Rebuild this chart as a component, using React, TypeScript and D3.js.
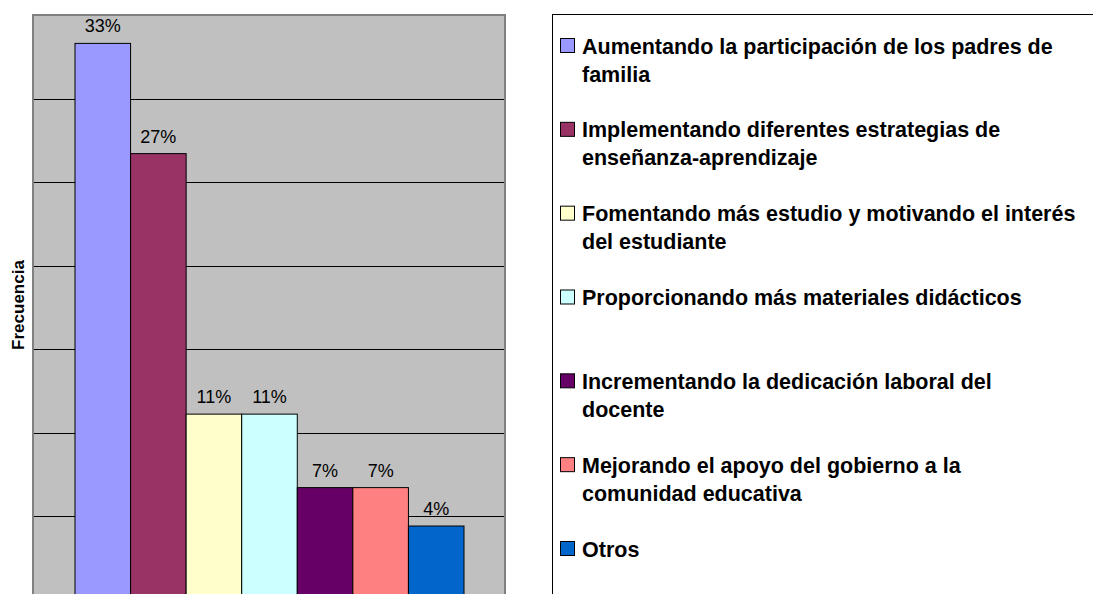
import React, { useEffect, useRef } from "react";
import * as d3 from "d3";

// legend names, line breaks as in the original chart
const categories = [
  "Aumentando la participación de los padres de\nfamilia",
  "Implementando diferentes estrategias de\nenseñanza-aprendizaje",
  "Fomentando más estudio y motivando el interés\ndel estudiante",
  "Proporcionando más materiales didácticos",
  "Incrementando la dedicación laboral del\ndocente",
  "Mejorando el apoyo del gobierno a la\ncomunidad educativa",
  "Otros",
];
const values = [33.3, 26.7, 11.1, 11.1, 6.7, 6.7, 4.4];
const colors = ["#9999FF", "#993366", "#FFFFCC", "#CCFFFF", "#660066", "#FF8080", "#0066CC"];
const yTicks = [0, 5, 10, 15, 20, 25, 30, 35];

const W = 1093;
const H = 594;
const FONT = "Arial, 'Liberation Sans', Helvetica, sans-serif";

export default function App() {
  const ref = useRef<SVGSVGElement | null>(null);

  useEffect(() => {
    const svg = d3.select(ref.current);
    svg.selectAll("*").remove();

    const plot = { left: 33, right: 505, top: 15, bottom: 599.5 };

    const y = d3.scaleLinear().domain([0, 35]).range([plot.bottom, plot.top]);
    const x = d3
      .scaleBand<string>()
      .domain(categories)
      .range([plot.left + 42, plot.right - 41])
      .padding(0);

    // plot area
    svg
      .append("rect")
      .attr("x", plot.left)
      .attr("y", plot.top)
      .attr("width", plot.right - plot.left)
      .attr("height", plot.bottom - plot.top + 10)
      .attr("fill", "#C0C0C0")
      .attr("stroke", "#808080")
      .attr("stroke-width", 2);

    svg
      .append("g")
      .selectAll("line")
      .data(yTicks.filter((t) => t > 0 && t < 35))
      .join("line")
      .attr("x1", plot.left + 1)
      .attr("x2", plot.right - 1)
      .attr("y1", (d) => Math.round(y(d)) + 0.5)
      .attr("y2", (d) => Math.round(y(d)) + 0.5)
      .attr("stroke", "#000")
      .attr("stroke-width", 1);

    // bars
    svg
      .append("g")
      .selectAll("rect")
      .data(values)
      .join("rect")
      .attr("x", (d, i) => x(categories[i])!)
      .attr("y", (d) => y(d))
      .attr("width", x.bandwidth())
      .attr("height", (d) => plot.bottom - y(d) + 10)
      .attr("fill", (d, i) => colors[i])
      .attr("stroke", "#000")
      .attr("stroke-width", 1);

    // value labels
    svg
      .append("g")
      .selectAll("text")
      .data(values)
      .join("text")
      .attr("x", (d, i) => x(categories[i])! + x.bandwidth() / 2)
      .attr("y", (d) => y(d) - 11)
      .attr("text-anchor", "middle")
      .attr("font-family", FONT)
      .attr("font-size", 18)
      .attr("fill", "#000")
      .text((d) => `${Math.round(d)}%`);

    // y axis title
    svg
      .append("text")
      .attr("transform", `translate(24,305) rotate(-90)`)
      .attr("text-anchor", "middle")
      .attr("font-family", FONT)
      .attr("font-size", 17)
      .attr("font-weight", "bold")
      .text("Frecuencia");

    // legend
    const lg = svg.append("g");
    lg.append("rect")
      .attr("x", 552.5)
      .attr("y", 14.5)
      .attr("width", 700)
      .attr("height", 700)
      .attr("fill", "#fff")
      .attr("stroke", "#000")
      .attr("stroke-width", 1);

    const rowY = d3.scaleLinear().domain([0, 6]).range([46, 549]);
    const item = lg
      .selectAll("g.item")
      .data(categories)
      .join("g")
      .attr("class", "item")
      .attr("transform", (d, i) => `translate(0,${rowY(i)})`);

    item
      .append("rect")
      .attr("x", 560.5)
      .attr("y", -7.5)
      .attr("width", 14)
      .attr("height", 14)
      .attr("fill", (d, i) => colors[i])
      .attr("stroke", "#000")
      .attr("stroke-width", 1);

    item
      .append("text")
      .attr("font-family", FONT)
      .attr("font-size", 21.5)
      .attr("font-weight", "bold")
      .attr("fill", "#000")
      .selectAll("tspan")
      .data((d) => d.split("\n"))
      .join("tspan")
      .attr("x", 582)
      .attr("y", (d, i) => 7.5 + i * 28)
      .text((d) => d);
  }, []);

  return (
    <div style={{ position: "absolute", left: 0, top: 0 }}>
      <svg ref={ref} width={W} height={H} style={{ display: "block", background: "#fff" }} />
    </div>
  );
}
